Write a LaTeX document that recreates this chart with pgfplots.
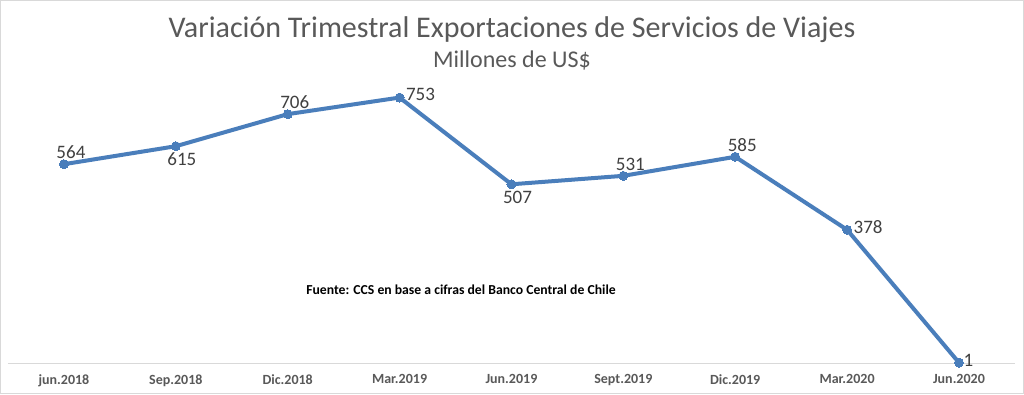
\documentclass[border=0pt]{standalone}
\usepackage{pgfplots}
\pgfplotsset{compat=1.18}
\usepackage{fontspec}
\setmainfont{Carlito}
\definecolor{lineblue}{HTML}{4A7EBB}
\definecolor{titlegray}{HTML}{595959}
\definecolor{labelgray}{HTML}{404040}
\definecolor{framegray}{HTML}{D9D9D9}
\definecolor{basegray}{HTML}{D9D9D9}
\begin{document}
\begin{tikzpicture}[x=1pt,y=1pt]
\draw[draw=framegray, line width=1.2pt, fill=white] (0.6,0.6) rectangle (1023.4,393.4);
\useasboundingbox (0,0) rectangle (1024,394);
\node[font=\fontsize{30}{34}\selectfont, text=titlegray] at (512,364) {Variación Trimestral Exportaciones de Servicios de Viajes};
\node[font=\fontsize{24}{28}\selectfont, text=titlegray] at (512,333) {Millones de US\$};
\begin{axis}[
  at={(8pt,31pt)}, anchor=south west,
  scale only axis, width=1007pt, height=282pt,
  xmin=-0.5, xmax=8.5, ymin=0, ymax=800,
  hide y axis,
  axis x line*=bottom,
  x axis line style={-, draw=basegray, line width=1pt},
  xtick={0,...,8},
  xticklabels={jun.2018,Sep.2018,Dic.2018,Mar.2019,Jun.2019,Sept.2019,Dic.2019,Mar.2020,Jun.2020},
  major tick length=0pt,
  xticklabel style={font=\bfseries\fontsize{14}{16}\selectfont, text=titlegray, yshift=-8pt},
  clip=false,
  nodes near coords style={font=\fontsize{19}{22}\selectfont, text=labelgray},
]
\addplot[lineblue, line width=4pt, line join=round, mark=*, mark size=4.5pt, mark options={fill=lineblue, draw=lineblue, line width=0pt}] coordinates {
(0,564) (1,615) (2,706) (3,753) (4,507) (5,531) (6,585) (7,378) (8,1)};
% labels above
\addplot[draw=none, mark=none, nodes near coords, point meta=explicit symbolic,
  every node near coord/.append style={anchor=south, yshift=2pt, xshift=7pt}]
  table[meta=lab] {
x y lab
0 564 564
2 706 706
5 531 531
6 585 585
};
% labels below
\addplot[draw=none, mark=none, nodes near coords, point meta=explicit symbolic,
  every node near coord/.append style={anchor=north, yshift=-3pt, xshift=6pt}]
  table[meta=lab] {
x y lab
1 615 615
4 507 507
};
% labels right
\addplot[draw=none, mark=none, nodes near coords, point meta=explicit symbolic,
  every node near coord/.append style={anchor=west, xshift=3pt, yshift=3pt}]
  table[meta=lab] {
x y lab
3 753 753
7 378 378
};
\addplot[draw=none, mark=none, nodes near coords, point meta=explicit symbolic,
  every node near coord/.append style={anchor=west, xshift=1pt, yshift=2pt, inner ysep=1pt}]
  table[meta=lab] {
x y lab
8 1 1
};
\end{axis}
\node[font=\bfseries\fontsize{13.7}{16}\selectfont, text=black] at (461,104) {Fuente: CCS en base a cifras del Banco Central de Chile};
\end{tikzpicture}
\end{document}
